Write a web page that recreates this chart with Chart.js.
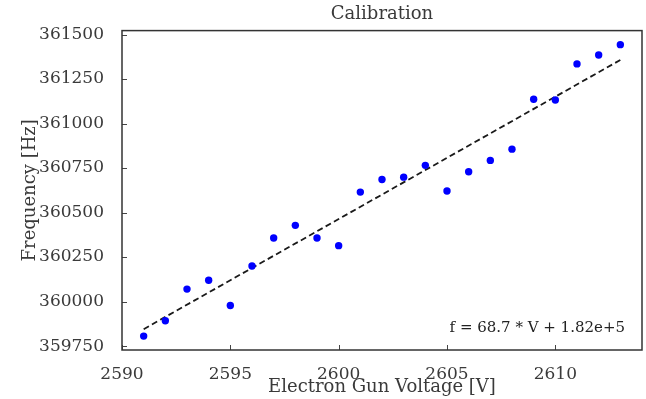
<!DOCTYPE html>
<html>
<head>
<meta charset="utf-8">
<script src="https://cdn.jsdelivr.net/npm/chart.js@4"></script>
<style>
    html, body { margin: 0; padding: 0; background: #fff; }
    #wrap { width: 646px; height: 399px; }
</style>
</head>
<body>
<div id="wrap"><canvas id="chartCanvas" width="646" height="399"></canvas></div>
<script>
// measured points
const voltages = [2591, 2592, 2593, 2594, 2595, 2596, 2597, 2598, 2599, 2600, 2601, 2602,
    2603, 2604, 2605, 2606, 2607, 2608, 2609, 2610, 2611, 2612, 2613]
const frequencies = [359806, 359892, 360070, 360120, 359978, 360200, 360357, 360428, 360357,
    360314, 360615, 360686, 360699, 360765, 360621, 360729, 360793, 360856, 361136, 361132,
    361335, 361385, 361443]
// fit line end points
const fitVoltages = [2591, 2613]
const fitFrequencies = [359845, 361357]
const fitLabel = 'f = 68.7 * V + 1.82e+5'
// tick labels
const xTicks = [2590, 2595, 2600, 2605, 2610]
const yTicks = [359750, 360000, 360250, 360500, 360750, 361000, 361250, 361500]

const serif = "'DejaVu Serif', 'Liberation Serif', serif"
const textColor = '#3a3a3a'

// box round the plot, inward ticks and the fit label
const frame = {
    id: 'frame',
    afterDraw: (chart) => {
        const ctx = chart.ctx
        const a = chart.chartArea
        const xs = chart.scales.x
        const ys = chart.scales.y
        ctx.save()
        ctx.strokeStyle = '#444'
        ctx.lineWidth = 1
        xs.ticks.forEach(t => {
            const px = Math.round(xs.getPixelForValue(t.value)) + 0.5
            ctx.beginPath()
            ctx.moveTo(px, a.bottom)
            ctx.lineTo(px, a.bottom - 5)
            ctx.stroke()
        })
        ys.ticks.forEach(t => {
            const py = Math.round(ys.getPixelForValue(t.value)) + 0.5
            ctx.beginPath()
            ctx.moveTo(a.left, py)
            ctx.lineTo(a.left + 5, py)
            ctx.stroke()
        })
        ctx.strokeStyle = '#333'
        ctx.lineWidth = 1.5
        ctx.strokeRect(a.left, a.top, a.right - a.left, a.bottom - a.top)
        ctx.fillStyle = '#222'
        ctx.font = '15px ' + serif
        ctx.textAlign = 'right'
        ctx.textBaseline = 'alphabetic'
        ctx.fillText(fitLabel, a.right - 17, a.bottom - 18)
        ctx.restore()
    }
}

const config = {
    type: 'scatter',
    data: {
        datasets: [
            {
                data: voltages.map((v, i) => ({x: v, y: frequencies[i]})),
                backgroundColor: '#0000ff',
                borderColor: '#0000ff',
                pointRadius: 3.7,
                borderWidth: 0
            },
            {
                type: 'line',
                data: fitVoltages.map((v, i) => ({x: v, y: fitFrequencies[i]})),
                borderColor: '#1a1a1a',
                borderWidth: 1.8,
                borderDash: [6, 3.5],
                pointRadius: 0,
                fill: false
            }
        ]
    },
    options: {
        responsive: false,
        animation: false,
        layout: {
            padding: {left: 0, right: 2, top: 0, bottom: 0}
        },
        plugins: {
            legend: { display: false },
            tooltip: { enabled: false },
            title: {
                display: true,
                fullSize: false,
                text: 'Calibration',
                color: textColor,
                font: { family: serif, size: 18, weight: 'normal' },
                padding: { top: 4, bottom: 5 }
            }
        },
        scales: {
            x: {
                type: 'linear',
                min: 2590,
                max: 2614,
                grid: { display: false },
                border: { display: false },
                afterBuildTicks: scale => { scale.ticks = xTicks.map(v => ({value: v})) },
                ticks: {
                    color: textColor,
                    font: { family: serif, size: 17 },
                    padding: 6,
                    maxRotation: 0,
                    autoSkip: false,
                    callback: v => v
                },
                title: {
                    display: true,
                    text: 'Electron Gun Voltage [V]',
                    color: textColor,
                    font: { family: serif, size: 18 },
                    padding: { bottom: 1 }
                },
                afterFit: scale => { scale.height = 49 }
            },
            y: {
                type: 'linear',
                min: 359728,
                max: 361522,
                grid: { display: false },
                border: { display: false },
                afterBuildTicks: scale => { scale.ticks = yTicks.map(v => ({value: v})) },
                ticks: {
                    color: textColor,
                    font: { family: serif, size: 17 },
                    padding: 10,
                    autoSkip: false,
                    callback: v => v
                },
                title: {
                    display: true,
                    text: 'Frequency [Hz]',
                    color: textColor,
                    font: { family: serif, size: 18 },
                    padding: { top: 20 }
                },
                afterFit: scale => { scale.width = 122 }
            }
        }
    },
    plugins: [frame]
}

const myChart = new Chart(document.getElementById('chartCanvas'), config)
</script>
</body>
</html>
